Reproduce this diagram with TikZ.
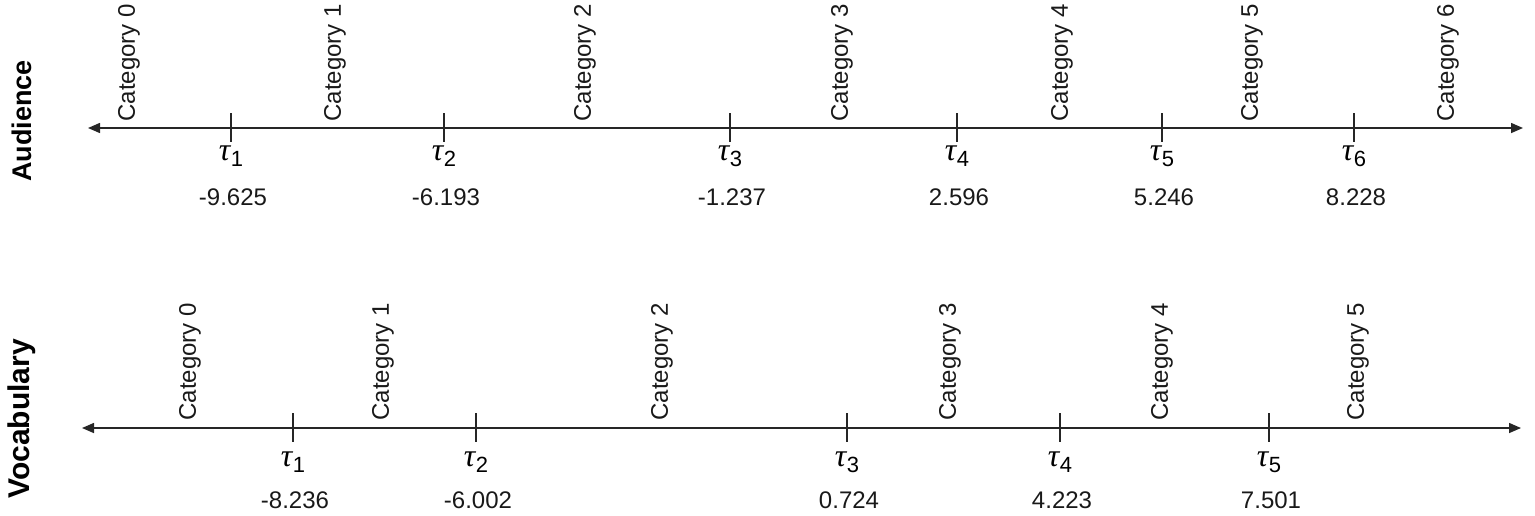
\documentclass[tikz,border=0pt]{standalone}
\usepackage{fontspec}
\setmainfont{Liberation Sans}
\newfontfamily\tauserif{Liberation Serif}
\usetikzlibrary{arrows.meta}
\tikzset{
  axisline/.style={line width=0.75pt, draw=black!85, {Triangle[length=6pt,width=5pt]}-{Triangle[length=6pt,width=5pt]}},
  tickmark/.style={line width=0.6pt, draw=black!85},
  catlabel/.style={rotate=90, anchor=west, inner sep=0pt, font=\fontsize{12}{14}\selectfont, text=black!90},
  taulabel/.style={inner sep=0pt, font=\fontsize{16}{18}\selectfont},
  numlabel/.style={inner sep=0pt, font=\fontsize{12}{14}\selectfont, text=black!90},
  sidelabel/.style={rotate=90, inner sep=0pt}
}
\newcommand{\mytau}[1]{{\tauserif\itshape τ}\kern0.3pt{\fontsize{11}{13}\selectfont\raisebox{-3pt}{#1}}}
\begin{document}
\begin{tikzpicture}[x=0.5pt,y=-0.5pt]
\useasboundingbox (0,0) rectangle (1535,515);
% ---------- Audience ----------
\node[sidelabel, font=\bfseries\fontsize{13.5}{16}\selectfont] (aud) at (22,121) {Audience};
\coordinate (aL) at (88,128);
\coordinate (aR) at (1523,128);
\draw[axisline] (aL) -- (aR);
\foreach \i/\x/\v in {1/231/-9.625, 2/444/-6.193, 3/730/-1.237, 4/957/2.596, 5/1162/5.246, 6/1354/8.228}{
  \coordinate (at\i top) at (\x,113);
  \coordinate (at\i bot) at (\x,142);
  \draw[tickmark] (at\i top) -- (at\i bot);
  \node[taulabel] (atau\i) at (\x,156) {\mytau{\i}};
  \node[numlabel] (anum\i) at (\x+2,197) {\v};
}
\foreach \i/\x in {0/129, 1/335, 2/585, 3/842, 4/1062, 5/1252, 6/1448}{
  \node[catlabel] (acat\i) at (\x,122) {Category \i};
}
% ---------- Vocabulary ----------
\node[sidelabel, font=\bfseries\fontsize{15}{18}\selectfont] (voc) at (22,419) {Vocabulary};
\coordinate (vL) at (82,428);
\coordinate (vR) at (1521,428);
\draw[axisline] (vL) -- (vR);
\foreach \i/\x/\v in {1/293/-8.236, 2/476/-6.002, 3/847/0.724, 4/1060/4.223, 5/1269/7.501}{
  \coordinate (vt\i top) at (\x,413);
  \coordinate (vt\i bot) at (\x,442);
  \draw[tickmark] (vt\i top) -- (vt\i bot);
  \node[taulabel] (vtau\i) at (\x,462) {\mytau{\i}};
  \node[numlabel] (vnum\i) at (\x+2,500) {\v};
}
\foreach \i/\x in {0/190, 1/383, 2/662, 3/950, 4/1162, 5/1358}{
  \node[catlabel] (vcat\i) at (\x,421) {Category \i};
}
\end{tikzpicture}
\end{document}
